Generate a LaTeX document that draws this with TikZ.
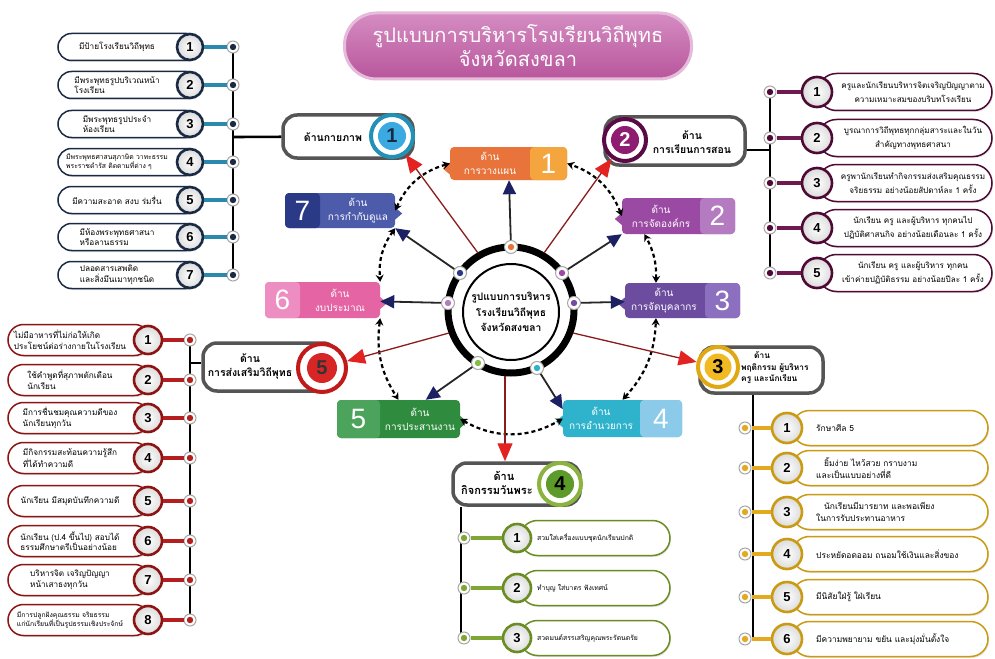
\documentclass[tikz,border=0pt]{standalone}
\usepackage{fontspec}
\setmainfont[Script=Thai]{Loma}
\newfontfamily\numfont{Liberation Sans}
\usetikzlibrary{arrows.meta,shadows,calc}
\definecolor{navyD}{HTML}{1B2A44}
\definecolor{tealC}{HTML}{2A8AAE}
\definecolor{plumD}{HTML}{4E0A34}
\definecolor{plumC}{HTML}{6E1A50}
\definecolor{goldD}{HTML}{C99A12}
\definecolor{goldC}{HTML}{E3A921}
\definecolor{oliveD}{HTML}{6A8C22}
\definecolor{oliveC}{HTML}{7FA534}
\definecolor{redD}{HTML}{8E1414}
\definecolor{redC}{HTML}{B51E1E}
\definecolor{orA}{HTML}{E8743B}
\definecolor{orB}{HTML}{F5A53D}
\definecolor{puA}{HTML}{9A4AA2}
\definecolor{puB}{HTML}{B57BC0}
\definecolor{viA}{HTML}{6B4C9E}
\definecolor{viB}{HTML}{8D6FC0}
\definecolor{cyA}{HTML}{2FB2CC}
\definecolor{cyB}{HTML}{8CCAEA}
\definecolor{grA}{HTML}{2F8B3E}
\definecolor{grB}{HTML}{4CA35C}
\definecolor{piA}{HTML}{E464A4}
\definecolor{piB}{HTML}{EE8DC1}
\definecolor{blA}{HTML}{4C5BAA}
\definecolor{blB}{HTML}{2B3A86}
\definecolor{titleA}{HTML}{D58CC2}
\definecolor{titleB}{HTML}{B8569C}
\definecolor{frameG}{HTML}{555555}
\definecolor{arrowN}{HTML}{1B2163}
\definecolor{arrowR}{HTML}{E32222}
\definecolor{lineR}{HTML}{8A1C1C}
\definecolor{h1ring}{HTML}{2391B5}
\definecolor{h1fill}{HTML}{3AAAE0}
\definecolor{h2ring}{HTML}{5A0A46}
\definecolor{h2fill}{HTML}{8E1C70}
\definecolor{h3ring}{HTML}{E0A812}
\definecolor{h3fill}{HTML}{F2BA22}
\definecolor{h4ring}{HTML}{8AB43E}
\definecolor{h4fill}{HTML}{5C9A2A}
\definecolor{h5ring}{HTML}{C21A1A}
\definecolor{h5fill}{HTML}{D82626}
\begin{document}
\begin{tikzpicture}[x=1pt,y=-1pt,
  pill/.style={draw=#1, line width=1.5pt, fill=white, inner sep=0pt,
    drop shadow={opacity=0.2,shadow xshift=1pt,shadow yshift=-1.5pt}},
  numc/.style={circle, draw=#1, line width=2.6pt, inner color=white, outer color=black!14,
    inner sep=0pt, font=\numfont\bfseries\fontsize{13}{13}\selectfont},
  dotc/.style={circle, draw=black!35, line width=1pt, fill=white, minimum size=12pt, inner sep=0pt,
    path picture={\fill[#1] (path picture bounding box.center) circle (3.2pt);}},
  conn/.style={line width=3.5pt, draw=#1},
  trunk/.style={line width=2.6pt, draw=black},
  itext/.style={align=left, inner sep=0pt, font=\fontsize{8.2}{10.5}\selectfont},
  itexts/.style={align=left, inner sep=0pt, font=\fontsize{6.8}{9}\selectfont},
  ctext/.style={align=center, inner sep=0pt, font=\fontsize{8.1}{14}\selectfont},
  hbox/.style={draw=frameG, line width=3.5pt, fill=white, rounded corners=14pt, inner sep=0pt},
  hring/.style={circle, draw=#1, line width=4pt, fill=white, inner sep=0pt},
  hnum/.style={circle, fill=#1, inner sep=0pt, font=\numfont\bfseries\fontsize{20}{20}\selectfont},
  htext/.style={align=center, inner sep=0pt, font=\bfseries\fontsize{10.5}{14}\selectfont},
  tag/.style={fill=#1, rounded corners=4pt, inner sep=0pt},
  tagnum/.style={fill=#1, rounded corners=4pt, inner sep=0pt, text=white,
    font=\numfont\fontsize{28}{28}\selectfont},
  tagtext/.style={align=center, inner sep=0pt, text=white, font=\fontsize{10}{14}\selectfont},
  navyarrow/.style={line width=1.8pt, draw=black!85, -{Triangle[width=13pt,length=14pt,color=arrowN]}},
  redarrow/.style={line width=1.3pt, draw=lineR, -{Triangle[width=15pt,length=18pt,color=arrowR]}},
  dasharrow/.style={line width=2.2pt, dash pattern=on 4pt off 3pt,
    {Stealth[length=7pt,width=8pt]}-{Stealth[length=7pt,width=8pt]}}
]
\useasboundingbox[fill=white] (0,0) rectangle (995,658);

% ---------- title ----------
\node[draw=titleA!60!white, line width=3pt, top color=titleA, bottom color=titleB,
  rounded corners=32pt, minimum width=347pt, minimum height=66pt, inner sep=0pt,
  align=center, text=white, font=\fontsize{20}{24}\selectfont] (title) at (518,46)
  {รูปแบบการบริหารโรงเรียนวิถีพุทธ\\จังหวัดสงขลา};

% ---------- headers ----------
\node[hbox, minimum width=130pt, minimum height=43pt] (h1) at (348,136.5) {};
\node[htext] (h1t) at (333,137) {ด้านกายภาพ};
\node[hring=h1ring, minimum size=42pt] (h1r) at (392,136) {};
\node[hnum=h1fill, text=navyD, minimum size=28pt] (h1c) at (392,136) {1};

\node[hbox, minimum width=140pt, minimum height=48pt] (h2) at (675,141) {};
\node[htext] (h2t) at (692,142) {ด้าน\\การเรียนการสอน};
\node[hring=h2ring, minimum size=42pt] (h2r) at (625,140) {};
\node[hnum=h2fill, text=white, minimum size=28pt] (h2c) at (625,140) {2};

\node[hbox, minimum width=123pt, minimum height=46pt] (h3) at (761.5,370) {};
\node[hring=h3ring, minimum size=40pt] (h3r) at (718,367) {};
\node[hnum=h3fill, text=black, minimum size=27pt] (h3c) at (718,367) {3};
\node[htext, align=left, anchor=west, font=\bfseries\fontsize{8.3}{11.5}\selectfont] (h3t) at (741,368)
  {\hspace*{13pt}ด้าน\\พฤติกรรม ผู้บริหาร\\ครู และนักเรียน};

\node[hbox, minimum width=127pt, minimum height=42pt] (h4) at (516.5,484) {};
\node[htext, font=\bfseries\fontsize{11}{14}\selectfont] (h4t) at (497,483) {\hspace*{14pt}ด้าน\\กิจกรรมวันพระ};
\node[hring=h4ring, minimum size=42pt] (h4r) at (560,484) {};
\node[hnum=h4fill, text=black, minimum size=28pt] (h4c) at (560,484) {4};

\node[hbox, minimum width=134pt, minimum height=48pt] (h5) at (270,367) {};
\node[htext] (h5t) at (250,366) {ด้าน\\การส่งเสริมวิถีพุทธ};
\node[hring=h5ring, minimum size=48pt] (h5r) at (322,368) {};
\node[hnum=h5fill, text=black!80, minimum size=30pt] (h5c) at (322,368) {5};

% ---------- list 1 (left top, navy/teal) ----------
\coordinate (LTa) at (233,47); \coordinate (LTb) at (233,275); \coordinate (LTm) at (233,137);
\draw[trunk] (LTa) -- (LTb);
\draw[trunk] (LTm) -- (h1);
\foreach \i/\y/\st/\t in {
  1/47/itext/{มีป้ายโรงเรียนวิถีพุทธ},
  2/85/itext/{มีพระพุทธรูปบริเวณหน้า\\โรงเรียน},
  3/124/itext/{มีพระพุทธรูปประจำ\\ห้องเรียน},
  4/162/itexts/{มีพระพุทธศาสนสุภาษิต วาทะธรรม\\พระราชดำรัส ติดตามที่ต่าง ๆ},
  5/200/itext/{มีความสะอาด สงบ ร่มรื่น},
  6/237/itext/{มีห้องพระพุทธศาสนา\\หรือลานธรรม},
  7/275/itext/{ปลอดสารเสพติด\\และสิ่งมึนเมาทุกชนิด}} {
  \node[pill=navyD, minimum width=142pt, minimum height=27pt, rounded corners=13.5pt] (LTp\i) at (129,\y) {};
  \node[\st] (LTt\i) at (117,\y) {\t};
  \node[dotc=navyD] (LTd\i) at (233,\y) {};
  \node[numc=navyD, minimum size=26pt] (LTn\i) at (190,\y) {\i};
  \draw[conn=tealC] (LTn\i) -- (LTd\i);
}

% ---------- list 2 (right top, plum) ----------
\coordinate (RTa) at (770,92); \coordinate (RTb) at (770,273); \coordinate (RTm) at (770,150);
\draw[trunk] (RTa) -- (RTb);
\draw[trunk] (RTm) -- (RTm -| h2.east);
\foreach \i/\y/\t in {
  1/92/{ครูและนักเรียนบริหารจิตเจริญปัญญาตาม\\ความเหมาะสมของบริบทโรงเรียน},
  2/138/{บูรณาการวิถีพุทธทุกกลุ่มสาระและในวัน\\สำคัญทางพุทธศาสนา},
  3/183/{ครูพานักเรียนทำกิจกรรมส่งเสริมคุณธรรม\\จริยธรรม อย่างน้อยสัปดาห์ละ 1 ครั้ง},
  4/228/{นักเรียน ครู และผู้บริหาร ทุกคนไป\\ปฏิบัติศาสนกิจ อย่างน้อยเดือนละ 1 ครั้ง},
  5/273/{นักเรียน ครู และผู้บริหาร ทุกคน\\เข้าค่ายปฏิบัติธรรม อย่างน้อยปีละ 1 ครั้ง}} {
  \node[pill=plumD, minimum width=174pt, minimum height=37pt, rounded corners=18.5pt] (RTp\i) at (905,\y) {};
  \node[ctext] (RTt\i) at (913,\y) {\t};
  \node[dotc=plumD] (RTd\i) at (770,\y) {};
  \node[numc=plumD, minimum size=30pt] (RTn\i) at (817,\y) {\i};
  \draw[conn=plumC] (RTn\i) -- (RTd\i);
}

% ---------- list 3 (right bottom, gold) ----------
\coordinate (GDb) at (753,639);
\draw[trunk] (GDb) -- (GDb |- h3.south);
\foreach \i/\y/\t in {
  1/428/{รักษาศีล 5},
  2/468/{\hspace*{8pt}ยิ้มง่าย ไหว้สวย กราบงาม\\และเป็นแบบอย่างที่ดี},
  3/512/{\hspace*{8pt}นักเรียนมีมารยาท และพอเพียง\\ในการรับประทานอาหาร},
  4/554/{ประหยัดอดออม ถนอมใช้เงินและสิ่งของ},
  5/597/{มีนิสัยใฝ่รู้ ใฝ่เรียน},
  6/639/{มีความพยายาม ขยัน และมุ่งมั่นตั้งใจ}} {
  \node[pill=goldD, minimum width=196pt, minimum height=35pt, rounded corners=17.5pt] (GDp\i) at (890,\y) {};
  \node[itext, anchor=west, font=\fontsize{8.4}{11.5}\selectfont] (GDt\i) at (816,\y) {\t};
  \node[dotc=goldC] (GDd\i) at (745,\y) {};
  \node[numc=goldD, minimum size=30pt] (GDn\i) at (787,\y) {\i};
  \draw[conn=goldC] (GDn\i) -- (GDd\i);
}

% ---------- list 4 (bottom middle, olive) ----------
\coordinate (GRb) at (461,638);
\draw[trunk] (GRb) -- (GRb |- h4.south);
\foreach \i/\y/\t in {
  1/538/{สวมใส่เครื่องแบบชุดนักเรียนปกติ},
  2/588/{ทำบุญ ใส่บาตร ฟังเทศน์},
  3/638/{สวดมนต์สรรเสริญคุณพระรัตนตรัย}} {
  \node[pill=oliveD, minimum width=150pt, minimum height=35pt, rounded corners=17.5pt] (GRp\i) at (595,\y) {};
  \node[itexts, anchor=west, font=\fontsize{6.8}{9}\selectfont] (GRt\i) at (537,\y) {\t};
  \node[dotc=oliveC] (GRd\i) at (464,\y) {};
  \node[numc=oliveD, minimum size=28pt] (GRn\i) at (517,\y) {\i};
  \draw[conn=oliveC] (GRn\i) -- (GRd\i);
}

% ---------- list 5 (left bottom, red) ----------
\coordinate (RDa) at (190,340); \coordinate (RDb) at (190,620); \coordinate (RDm) at (190,363);
\draw[trunk] (RDa) -- (RDb);
\draw[trunk] (RDm) -- (RDm -| h5.west);
\foreach \i/\y/\st/\t in {
  1/340/itext/{ไม่มีอาหารที่ไม่ก่อให้เกิด\\ประโยชน์ต่อร่างกายในโรงเรียน},
  2/380/itext/{ใช้คำพูดที่สุภาพตักเตือน\\นักเรียน},
  3/418/itext/{มีการชื่นชมคุณความดีของ\\นักเรียนทุกวัน},
  4/458/itext/{มีกิจกรรมสะท้อนความรู้สึก\\ที่ได้ทำความดี},
  5/501/itext/{นักเรียน มีสมุดบันทึกความดี},
  6/541/itext/{นักเรียน (ป.4 ขึ้นไป) สอบได้\\ธรรมศึกษาตรีเป็นอย่างน้อย},
  7/580/itext/{บริหารจิต เจริญปัญญา\\หน้าเสาธงทุกวัน},
  8/620/itexts/{มีการปลูกฝังคุณธรรม จริยธรรม\\แก่นักเรียนที่เป็นรูปธรรมเชิงประจักษ์}} {
  \node[pill=redD, minimum width=142pt, minimum height=31pt, rounded corners=15.5pt] (RDp\i) at (79,\y) {};
  \node[\st] (RDt\i) at (70,\y) {\t};
  \node[dotc=redC] (RDd\i) at (190,\y) {};
  \node[numc=redD, minimum size=28pt] (RDn\i) at (148,\y) {\i};
  \draw[conn=redC] (RDn\i) -- (RDd\i);
}

% ---------- inner tag boxes ----------
\node[tag=orA, minimum width=117pt, minimum height=33pt] (b1) at (508.5,163.5) {};
\fill[orA] ($(b1.west)+(0,-1)$) -- ++(-7,6) -- ++(7,6) -- cycle;
\node[tagnum=orB, minimum width=37pt, minimum height=33pt] (b1n) at (548.5,163.5) {1};
\node[tagtext] (b1t) at (490,163.5) {ด้าน\\การวางแผน};

\node[tag=puA, minimum width=113pt, minimum height=36pt] (b2) at (678.5,216) {};
\fill[puA] ($(b2.west)+(0,-3)$) -- ++(-7,6) -- ++(7,6) -- cycle;
\node[tagnum=puB, minimum width=35pt, minimum height=36pt] (b2n) at (717.5,216) {2};
\node[tagtext] (b2t) at (661,216) {ด้าน\\การจัดองค์กร};

\node[tag=viA, minimum width=115pt, minimum height=35pt] (b3) at (682.5,300.5) {};
\fill[viA] ($(b3.west)+(0,-3)$) -- ++(-7,6) -- ++(7,6) -- cycle;
\node[tagnum=viB, minimum width=35pt, minimum height=35pt] (b3n) at (722.5,300.5) {3};
\node[tagtext] (b3t) at (664,300.5) {ด้าน\\การจัดบุคลากร};

\node[tag=cyA, minimum width=119pt, minimum height=37pt] (b4) at (622.5,418.5) {};
\fill[cyA] ($(b4.west)+(0,-3)$) -- ++(-7,6) -- ++(7,6) -- cycle;
\node[tagnum=cyB, minimum width=42pt, minimum height=37pt] (b4n) at (661,418.5) {4};
\node[tagtext] (b4t) at (601,418.5) {ด้าน\\การอำนวยการ};

\node[tag=grA, minimum width=123pt, minimum height=38pt] (b5) at (398.5,419) {};
\fill[grA] ($(b5.east)+(0,-3)$) -- ++(7,6) -- ++(-7,6) -- cycle;
\node[tagnum=grB, minimum width=43pt, minimum height=38pt] (b5n) at (358.5,419) {5};
\node[tagtext] (b5t) at (420,419) {ด้าน\\การประสานงาน};

\node[tag=piA, minimum width=115pt, minimum height=36pt] (b6) at (322.5,300) {};
\fill[piA] ($(b6.east)+(0,-3)$) -- ++(7,6) -- ++(-7,6) -- cycle;
\node[tagnum=piB, minimum width=35pt, minimum height=36pt] (b6n) at (282.5,300) {6};
\node[tagtext] (b6t) at (340,300) {ด้าน\\งบประมาณ};

\node[tag=blA, minimum width=110pt, minimum height=35pt] (b7) at (340,210.5) {};
\fill[blA] ($(b7.east)+(0,-3)$) -- ++(7,6) -- ++(-7,6) -- cycle;
\node[tagnum=blB, minimum width=35pt, minimum height=35pt] (b7n) at (302.5,210.5) {7};
\node[tagtext] (b7t) at (358,210.5) {ด้าน\\การกำกับดูแล};

% ---------- dashed cycle ----------
\draw[dasharrow] (b1.west) to[bend right=25] (b7.east);
\draw[dasharrow] (b7.south east) to[bend right=20] (b6.north east);
\draw[dasharrow] (b6.south east) to[bend right=20] (b5.north);
\draw[dasharrow] (b5.east) to[bend right=30] (b4.west);
\draw[dasharrow] (b4.north) to[bend right=20] ($(b3.south west)!0.27!(b3.south east)$);
\draw[dasharrow] ($(b3.north west)!0.27!(b3.north east)$) to[bend right=15] ($(b2.south west)!0.2!(b2.south east)$);
\draw[dasharrow] (b2.west) to[bend right=25] (b1.east);

% ---------- centre ----------
\node[circle, draw, line width=7pt, minimum size=126pt, inner sep=0pt] (ring) at (511,310) {};
\node[circle, draw, line width=2pt, fill=white, minimum size=96pt, inner sep=0pt,
  align=center, font=\bfseries\fontsize{10.3}{15.5}\selectfont] (cc) at (511,312)
  {รูปแบบการบริหาร\\โรงเรียนวิถีพุทธ\\จังหวัดสงขลา};
\node[dotc=orA, minimum size=13pt] (dA) at (511,247) {};
\node[dotc=blB, minimum size=13pt] (dB) at (460,273) {};
\node[dotc=puA, minimum size=13pt] (dC) at (562,273) {};
\node[dotc=puB, minimum size=13pt] (dD) at (448,303) {};
\node[dotc=viA!80!puA, minimum size=13pt] (dE) at (574,303) {};
\node[dotc=grB!70!yellow, minimum size=13pt] (dF) at (478,363) {};
\node[dotc=cyA, minimum size=13pt] (dG) at (537,368) {};

\draw[navyarrow] (dA) -- (b1);
\draw[navyarrow] (dB) -- (b7.south east);
\draw[navyarrow] (dC) -- (b2.south west);
\draw[navyarrow] (dD) -- (b6);
\draw[navyarrow] (dE) -- (b3);
\draw[navyarrow] (dF) -- (b5);
\draw[navyarrow] (dG) -- ($(b4.north west)!0.5!(b4.west)$);

\coordinate (r1) at (478,253);
\coordinate (r2) at (544,253);
\coordinate (r5) at (449,333);
\coordinate (r3) at (573,333);
\coordinate (r4) at (505,376);
\draw[redarrow] (r1) -- (h1r);
\draw[redarrow] (r2) -- (h2r);
\draw[redarrow] (r5) -- (h5r);
\draw[redarrow] (r3) -- (h3r);
\draw[redarrow] (r4) -- (r4 |- h4.north);
\end{tikzpicture}
\end{document}
